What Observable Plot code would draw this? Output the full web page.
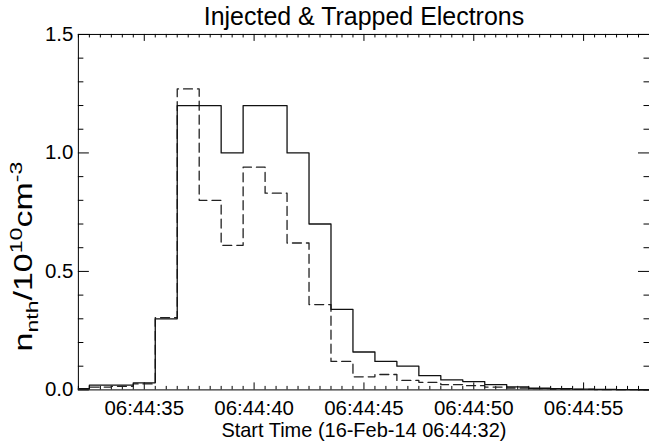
<!DOCTYPE html>
<html><head><meta charset="utf-8">
<script src="https://cdn.jsdelivr.net/npm/d3@7"></script>
<script src="https://cdn.jsdelivr.net/npm/@observablehq/plot@0.6"></script>
<style>html,body{margin:0;padding:0;background:#fff;overflow:hidden}</style>
</head><body><div id="chart"></div>
<script>
// Seconds after 06:44:00 (bin centres, 1 s bins)
const seconds = [32,33,34,35,36,37,38,39,40,41,42,43,44,45,46,47,48,49,50,51,52,53,54,55,56,57,58];
// Injected electrons (solid)
const injected = [0.005,0.02,0.02,0.03,0.30,1.20,1.20,1.00,1.20,1.20,1.00,0.70,0.34,0.16,0.12,0.10,0.06,0.042,0.035,0.022,0.013,0.007,0.005,0.003,0.002,0.001,0.001];
// Trapped electrons (dashed)
const trapped = [0.003,0.012,0.015,0.025,0.305,1.27,0.80,0.61,0.94,0.83,0.62,0.36,0.12,0.055,0.065,0.04,0.032,0.022,0.018,0.012,0.008,0.005,0.003,0.002,0.001,0.001,0.0];
const xDomain = [32, 58];
const yDomain = [0, 1.5];
const xMajorTicks = [35, 40, 45, 50, 55];
const yMajorTicks = [0, 0.5, 1.0, 1.5];
const timePrefix = "06:44:";
const title = "Injected & Trapped Electrons";
const xTitle = "Start Time (16-Feb-14 06:44:32)";

const rows = seconds.map((t, i) => ({t, injected: injected[i], trapped: trapped[i]}));
const xMinor = d3.range(64, 117).map(k => k / 2).filter(v => !xMajorTicks.includes(v));
const yMinor = d3.range(0, 16).map(k => k / 10).filter(v => !yMajorTicks.some(m => Math.abs(m - v) < 1e-9));

const W = 650, H = 445, mL = 78, mR = 0, mT = 34, mB = 55;
const iW = W - mL - mR, iH = H - mT - mB;
const fam = "'Liberation Sans', Arial, Helvetica, sans-serif";

const plot = Plot.plot({
  width: W, height: H,
  marginLeft: mL, marginRight: mR, marginTop: mT, marginBottom: mB,
  style: {fontFamily: fam, fontSize: "20px", color: "#000", background: "#fff", overflow: "visible"},
  x: {domain: xDomain, label: null},
  y: {domain: yDomain, label: null},
  marks: [
    Plot.frame({stroke: "#000", strokeWidth: 1}),
    // inward ticks: bottom & top
    Plot.tickX(xMinor, {x: d => d, insetTop: iH - 3.5, stroke: "#000"}),
    Plot.tickX(xMajorTicks, {x: d => d, insetTop: iH - 7, stroke: "#000"}),
    Plot.tickX(xMinor, {x: d => d, insetBottom: iH - 3.5, stroke: "#000"}),
    Plot.tickX(xMajorTicks, {x: d => d, insetBottom: iH - 7, stroke: "#000"}),
    // inward ticks: left & right
    Plot.tickY(yMinor, {y: d => d, insetRight: iW - 5.5, stroke: "#000"}),
    Plot.tickY(yMajorTicks, {y: d => d, insetRight: iW - 11, stroke: "#000"}),
    Plot.tickY(yMinor, {y: d => d, insetLeft: iW - 5.5, stroke: "#000"}),
    Plot.tickY(yMajorTicks, {y: d => d, insetLeft: iW - 11, stroke: "#000"}),
    Plot.axisX({ticks: xMajorTicks, tickSize: 0, tickPadding: 11, fontSize: 20.5,
      tickFormat: t => timePrefix + String(t).padStart(2, "0"), label: null}),
    Plot.axisY({ticks: yMajorTicks, tickSize: 0, tickPadding: 5, fontSize: 20.5,
      tickFormat: d3.format(".1f"), label: null}),
    Plot.line(rows, {x: "t", y: "trapped", curve: "step", stroke: "#222", strokeWidth: 1.3, strokeDasharray: "9,5"}),
    Plot.line(rows, {x: "t", y: "injected", curve: "step", stroke: "#111", strokeWidth: 1.3}),
    Plot.text([title], {frameAnchor: "top", lineAnchor: "bottom", dy: -9, fontSize: 25, fill: "#000"}),
    Plot.text([xTitle], {frameAnchor: "bottom", lineAnchor: "bottom", dy: 47, fontSize: 20, fill: "#000"})
  ]
});

// y-axis title with subscript / superscripts
const svg = d3.select(plot);
const yl = svg.append("text")
  .attr("transform", "translate(32,257) rotate(-90)")
  .attr("text-anchor", "middle")
  .attr("textLength", 190).attr("lengthAdjust", "spacingAndGlyphs")
  .attr("font-family", fam).attr("font-size", 25).attr("fill", "#000");
yl.append("tspan").text("n");
yl.append("tspan").attr("dy", 6).attr("font-size", 17).text("nth");
yl.append("tspan").attr("dy", -6).text("/10");
yl.append("tspan").attr("dy", -10).attr("font-size", 17).text("10");
yl.append("tspan").attr("dy", 10).text("cm");
yl.append("tspan").attr("dy", -10).attr("font-size", 17).text("-3");

document.getElementById("chart").appendChild(plot);
</script>
</body></html>
